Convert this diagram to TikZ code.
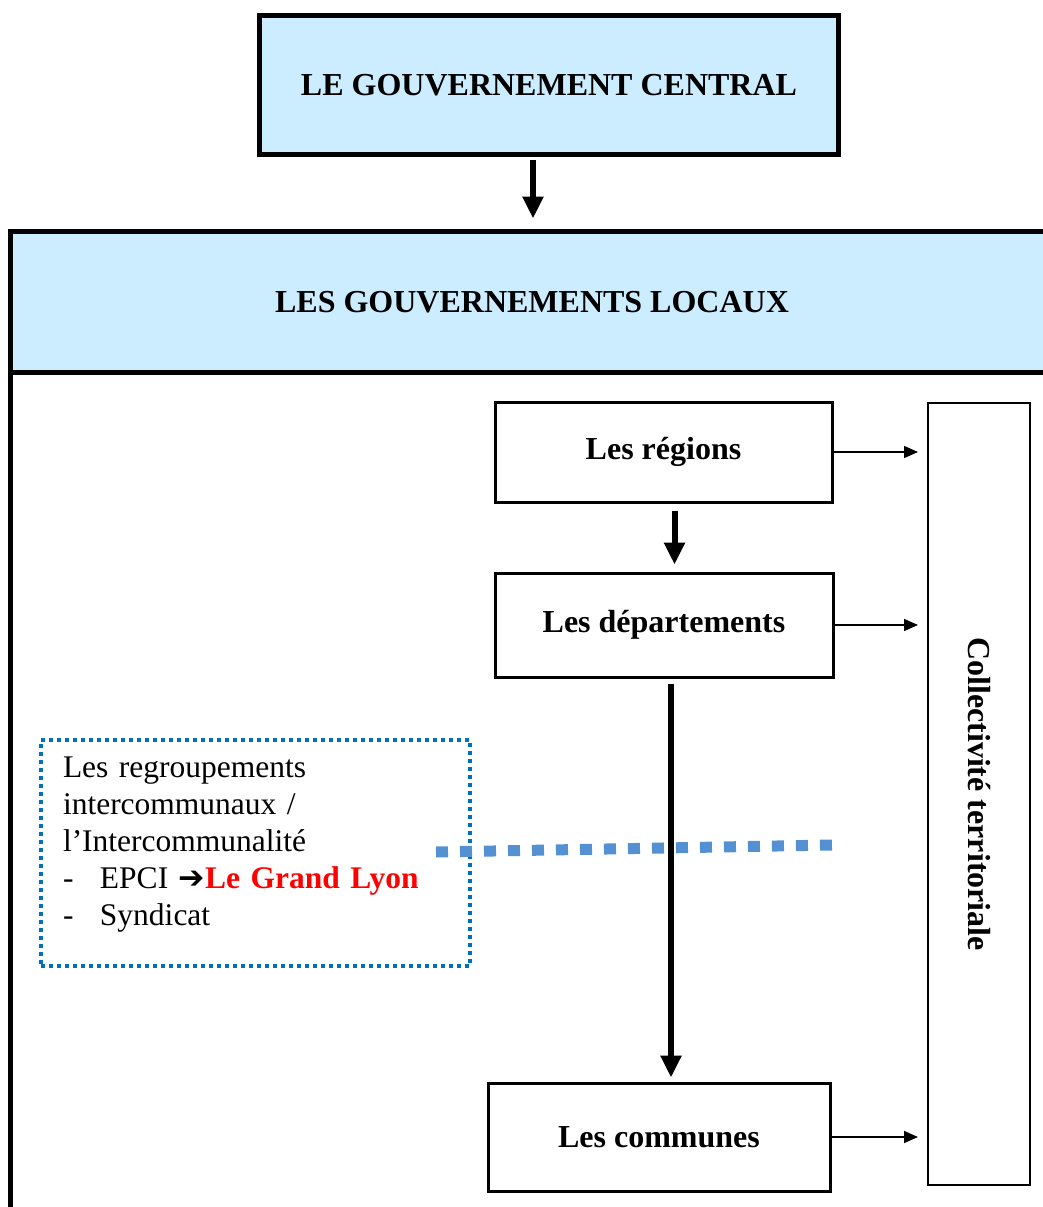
\documentclass[tikz,border=0pt]{standalone}
\usepackage{fontspec}
\setmainfont{Liberation Serif}
\newfontfamily\arrowfont{DejaVu Sans}
\usetikzlibrary{arrows.meta}
\definecolor{paleblue}{RGB}{204,236,255}
\definecolor{interblue}{RGB}{0,112,192}
\definecolor{linkblue}{RGB}{84,145,210}
\definecolor{lyonred}{RGB}{255,0,0}
\begin{document}
\begin{tikzpicture}[x=1pt,y=-1pt,
    govbox/.style={draw, line width=5pt, outer sep=0pt, fill=paleblue, font=\fontsize{32}{38}\selectfont\bfseries},
    levelbox/.style={draw, line width=3pt, font=\fontsize{32}{38}\selectfont\bfseries},
    bigarrow/.style={-{Triangle[length=22pt,width=20pt]}, line width=6pt},
    thinarrow/.style={-{Triangle[length=14pt,width=12pt]}, line width=1.5pt}]
  \useasboundingbox (0,0) rectangle (1043,1207);
  % nodes
  \node (central) [govbox, minimum width=579pt, minimum height=139pt] at (549,85) {LE GOUVERNEMENT CENTRAL};
  \node (locaux) [govbox, minimum width=1043pt, minimum height=141pt, anchor=north west] at (10.5,231.5) {LES GOUVERNEMENTS LOCAUX};
  \node (regions) [levelbox, minimum width=337pt, minimum height=100pt] at (663.5,452) {Les régions};
  \node (dept) [levelbox, minimum width=338pt, minimum height=104pt] at (664,625) {Les départements};
  \node (comm) [levelbox, minimum width=342pt, minimum height=108pt] at (659,1137) {Les communes};
  \node (collect) [draw, line width=2pt, rotate=-90, minimum width=782pt, minimum height=102pt,
    font=\fontsize{32}{38}\selectfont\bfseries] at (979,794) {Collectivité territoriale};
  \node (inter) [draw=interblue, line width=4pt, dash pattern=on 4pt off 4pt, anchor=north west,
    text width=385pt, inner xsep=22pt, minimum height=226pt, align=left,
    font=\fontsize{31.5}{37}\selectfont] at (39,738)
    {Les regroupements\\ intercommunaux /\\ l’Intercommunalité\\
     \makebox[37pt][l]{-}EPCI {\arrowfont\bfseries ➔}\textcolor{lyonred}{\bfseries Le Grand Lyon}\\
     \makebox[37pt][l]{-}Syndicat\rule[-24pt]{0pt}{0pt}};
  \coordinate (linkL) at (436,852);
  \coordinate (linkR) at (833,845);
  % arrows
  \draw[line width=5pt] (locaux.south west) -- ++(0,840);
  \draw[bigarrow, shorten <=5pt, shorten >=13pt] ([xshift=-16pt]central.south) -- ([xshift=-16pt]central.south |- locaux.north);
  \draw[bigarrow, shorten <=7pt, shorten >=7pt] ([xshift=11pt]regions.south) -- ([xshift=11pt]regions.south |- dept.north);
  \draw[bigarrow, shorten <=5pt, shorten >=4pt] ([xshift=7pt]dept.south) -- ([xshift=7pt]dept.south |- comm.north);
  \foreach \lvl in {regions, dept, comm}
    \draw[thinarrow, shorten >=9pt] (\lvl.east) -- (\lvl.east -| collect.south);
  \draw[linkblue, line width=11pt, dash pattern=on 12pt off 12pt] (linkL) -- (linkR);
\end{tikzpicture}
\end{document}
